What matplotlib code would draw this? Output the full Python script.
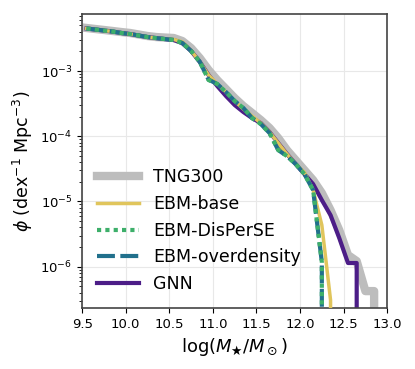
import matplotlib
matplotlib.use("Agg")
import matplotlib.pyplot as plt
import numpy as np

# stellar mass bin centres, log(M*/Msun)
log_mass = [9.55, 9.65, 9.75, 9.85, 9.95, 10.05, 10.15, 10.25, 10.35, 10.45,
            10.55, 10.65, 10.75, 10.85, 10.95, 11.05, 11.15, 11.25, 11.35, 11.45,
            11.55, 11.65, 11.75, 11.85, 11.95, 12.05, 12.15, 12.25, 12.35, 12.45,
            12.55, 12.65, 12.75, 12.85, 12.95]

# number densities, dex^-1 Mpc^-3 (0 = empty bin)
phi_tng = [4.57e-3, 4.41e-3, 4.26e-3, 4.11e-3, 3.96e-3, 3.83e-3, 3.63e-3, 3.44e-3, 3.32e-3, 3.26e-3,
           3.21e-3, 2.88e-3, 2.25e-3, 1.58e-3, 1.04e-3, 7.28e-4, 5.30e-4, 3.85e-4, 2.90e-4, 2.27e-4,
           1.77e-4, 1.34e-4, 9.38e-5, 6.14e-5, 4.31e-5, 3.03e-5, 2.13e-5, 1.35e-5, 7.38e-6, 3.64e-6,
           1.51e-6, 1.22e-6, 4.23e-7, 4.23e-7, 0]
phi_base = [4.49e-3, 4.33e-3, 4.18e-3, 4.03e-3, 3.83e-3, 3.69e-3, 3.50e-3, 3.32e-3, 3.20e-3, 3.09e-3,
            3.05e-3, 2.80e-3, 2.05e-3, 1.38e-3, 8.69e-4, 6.32e-4, 4.77e-4, 3.47e-4, 2.61e-4, 2.04e-4,
            1.59e-4, 1.16e-4, 7.86e-5, 5.34e-5, 3.75e-5, 2.80e-5, 1.50e-5, 4.35e-6, 3.08e-7, 0,
            0, 0, 0, 0, 0]
phi_disperse = [4.49e-3, 4.33e-3, 4.18e-3, 4.03e-3, 3.83e-3, 3.69e-3, 3.50e-3, 3.32e-3, 3.20e-3, 3.09e-3,
                2.99e-3, 2.69e-3, 2.03e-3, 1.38e-3, 7.28e-4, 6.32e-4, 4.77e-4, 3.47e-4, 2.71e-4, 1.90e-4,
                1.54e-4, 1.12e-4, 6.14e-5, 4.96e-5, 3.75e-5, 2.63e-5, 1.50e-5, 1.18e-6, 0, 0,
                0, 0, 0, 0, 0]
phi_overdens = [4.49e-3, 4.33e-3, 4.18e-3, 4.03e-3, 3.83e-3, 3.69e-3, 3.50e-3, 3.32e-3, 3.20e-3, 3.09e-3,
                2.99e-3, 2.69e-3, 2.03e-3, 1.38e-3, 7.40e-4, 6.32e-4, 4.77e-4, 3.47e-4, 2.71e-4, 1.90e-4,
                1.54e-4, 1.12e-4, 6.14e-5, 4.96e-5, 3.75e-5, 2.63e-5, 1.50e-5, 1.18e-6, 0, 0,
                0, 0, 0, 0, 0]
phi_gnn = [4.49e-3, 4.33e-3, 4.18e-3, 4.03e-3, 3.83e-3, 3.69e-3, 3.50e-3, 3.32e-3, 3.20e-3, 3.09e-3,
           2.99e-3, 2.69e-3, 2.03e-3, 1.38e-3, 8.69e-4, 5.89e-4, 4.14e-4, 3.01e-4, 2.35e-4, 1.90e-4,
           1.59e-4, 1.16e-4, 7.86e-5, 5.34e-5, 3.75e-5, 2.63e-5, 1.85e-5, 1.05e-5, 6.18e-6, 2.75e-6,
           1.14e-6, 1.14e-6, 0, 0, 0]

fig = plt.figure(figsize=(4.15, 3.69), dpi=100)
ax = fig.add_axes([0.198, 0.165, 0.735, 0.797])

ax.plot(log_mass, phi_tng, color="#bdbdbd", lw=6, label="TNG300", zorder=2)
ax.plot(log_mass, phi_base, color="#e0c55c", lw=2.5, label="EBM-base", zorder=3)
ax.plot(log_mass, phi_disperse, color="#3daf6a", lw=3, ls=(0, (1, 1)), label="EBM-DisPerSE", zorder=5)
ax.plot(log_mass, phi_overdens, color="#21708c", lw=3, ls=(0, (4.3, 1.3)), label="EBM-overdensity", zorder=4)
ax.plot(log_mass, phi_gnn, color="#4c1d87", lw=3, label="GNN", zorder=2.5)

ax.set_yscale("log")
ax.set_xlim(9.5, 13.0)
ax.set_ylim(2.32e-7, 7.48e-3)
ax.set_xticks(np.arange(9.5, 13.01, 0.5))
ax.tick_params(labelsize=9.5)
ax.grid(True, which="major", color="#e8e8e8", lw=0.8)
ax.set_axisbelow(True)
for sp in ax.spines.values():
    sp.set_color("#444444")
    sp.set_linewidth(1.2)

ax.set_xlabel(r"$\log(M_{★}/M_\odot)$", fontsize=13)
ax.set_ylabel(r"$\phi$ (dex$^{-1}$ Mpc$^{-3}$)", fontsize=12.5)

ax.legend(loc="lower left", frameon=False, fontsize=12.5, handlelength=2.4,
          borderaxespad=0.47, labelspacing=0.5)

fig.savefig("out.png", dpi=100)
